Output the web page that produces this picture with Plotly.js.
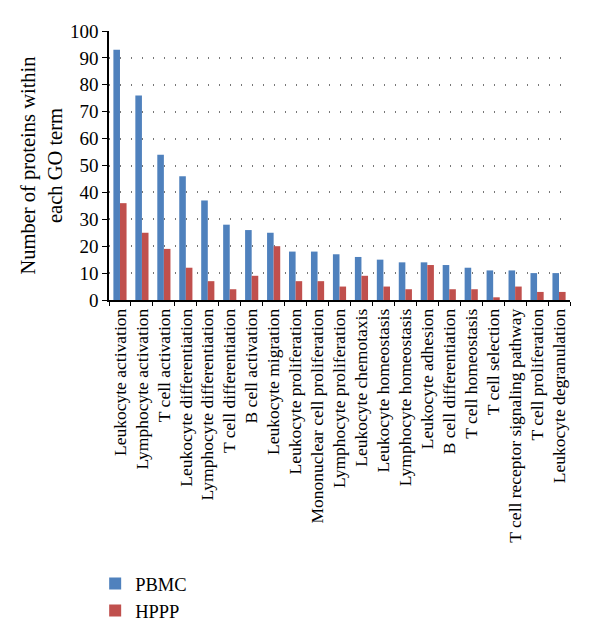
<!DOCTYPE html>
<html><head><meta charset="utf-8">
<script src="https://cdn.plot.ly/plotly-3.0.1.min.js"></script>
<style>html,body{margin:0;padding:0;background:#fff}</style>
</head><body>
<div id="chart" style="width:600px;height:643px"></div>
<script>
var categories = ["Leukocyte activation","Lymphocyte activation","T cell activation","Leukocyte differentiation","Lymphocyte differentiation","T cell differentiation","B cell activation","Leukocyte migration","Leukocyte proliferation","Mononuclear cell proliferation","Lymphocyte proliferation","Leukocyte chemotaxis","Leukocyte homeostasis","Lymphocyte homeostasis","Leukocyte adhesion","B cell differentiation","T cell homeostasis","T cell selection","T cell receptor signaling pathway","T cell proliferation","Leukocyte degranulation"];
var pbmc = [93,76,54,46,37,28,26,25,18,18,17,16,15,14,14,13,12,11,11,10,10];
var hppp = [36,25,19,12,7,4,9,20,7,7,5,9,5,4,13,4,4,1,5,3,3];
var yTicks = [0,10,20,30,40,50,60,70,80,90,100];
var font = "Liberation Serif";
var data = [
 {type:"bar", name:"PBMC", x:categories, y:pbmc, marker:{color:"#4F81BD"}},
 {type:"bar", name:"HPPP", x:categories, y:hppp, marker:{color:"#C0504D"}}
];
var layout = {
 width:600, height:643,
 margin:{l:109, r:30, t:31, b:343},
 barmode:"group", bargap:0.4, bargroupgap:0,
 paper_bgcolor:"#fff", plot_bgcolor:"#fff",
 font:{family:font, size:16, color:"#000"},
 showlegend:true,
 legend:{x:-0.03, xanchor:"left", y:-0.985, yanchor:"top", font:{family:font, size:18.5}, itemwidth:30, tracegroupgap:0},
 xaxis:{type:"category", tickangle:-90, tickfont:{family:font, size:17.5}, showline:true, linecolor:"#000", linewidth:1.5,
   ticks:"outside", tickson:"boundaries", ticklen:4, tickcolor:"#000", showgrid:false, automargin:false},
 yaxis:{range:[0,100], tickvals:yTicks, ticks:"outside", ticklen:5, tickcolor:"#000", showline:true, linecolor:"#000", linewidth:1.5,
   showgrid:true, gridcolor:"#777", griddash:"1px,10px", gridwidth:1.5, zeroline:false, tickfont:{family:font, size:19},
   title:{text:"Number of proteins within<br>each GO term", font:{family:font, size:20.5}, standoff:2}, automargin:false}
};
Plotly.newPlot("chart", data, layout, {displayModeBar:false});
</script>
</body></html>
